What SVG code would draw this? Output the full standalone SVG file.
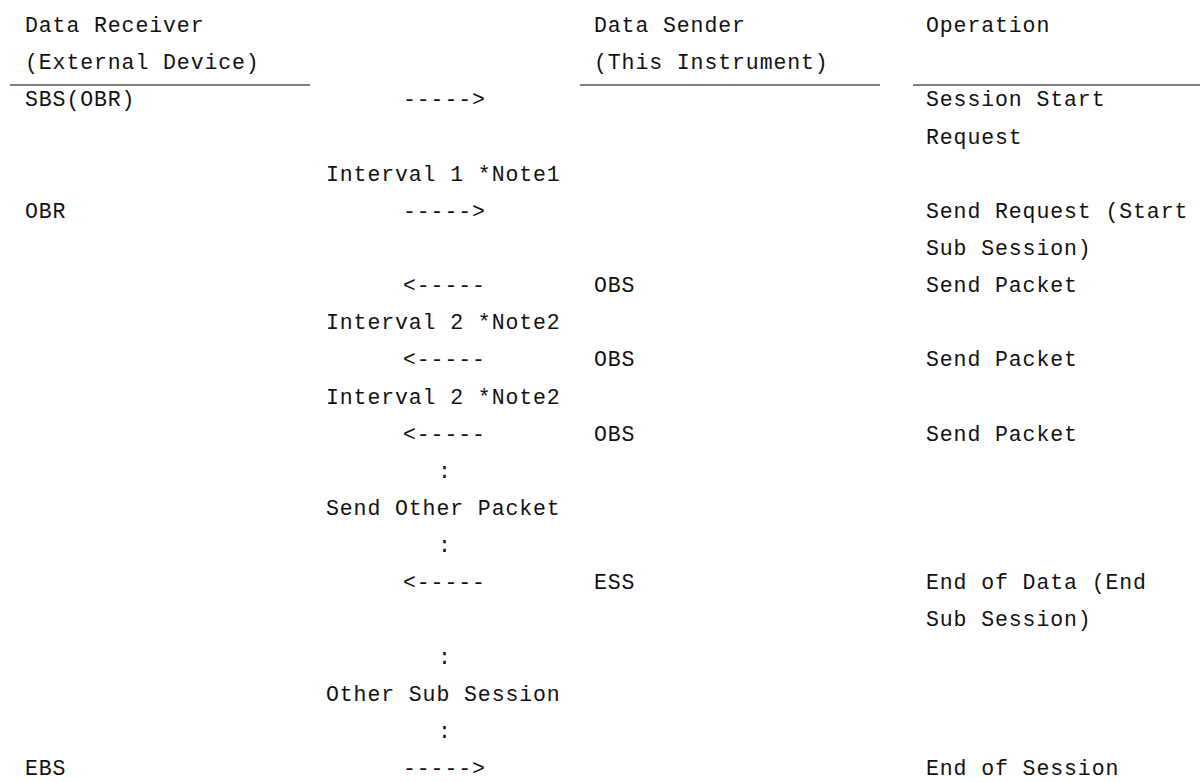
<svg xmlns="http://www.w3.org/2000/svg" width="1200" height="782" viewBox="0 0 1200 782">
<style>
text{font-family:"Liberation Mono","DejaVu Sans Mono",monospace;font-size:21.5px;letter-spacing:0.9px;fill:#111;}
.rule{stroke:#808080;stroke-width:2;}
</style>
<rect width="1200" height="782" fill="#fff"/>
<g id="header">
<text x="25" y="32">Data Receiver</text>
<text x="25" y="69.2">(External Device)</text>
<text x="594" y="32">Data Sender</text>
<text x="594" y="69.2">(This Instrument)</text>
<text x="926" y="32">Operation</text>
<line class="rule" x1="10" y1="85" x2="310" y2="85"/>
<line class="rule" x1="580" y1="85" x2="880" y2="85"/>
<line class="rule" x1="913" y1="85" x2="1200" y2="85"/>
</g>
<g id="col-receiver">
<text x="25" y="106.3">SBS(OBR)</text>
<text x="25" y="217.8">OBR</text>
<text x="25" y="775">EBS</text>
</g>
<g id="connectors">
<text x="403" y="106.3">-----&gt;</text>
<text x="326" y="180.6">Interval 1 *Note1</text>
<text x="403" y="217.8">-----&gt;</text>
<text x="403" y="292.1">&lt;-----</text>
<text x="326" y="329.2">Interval 2 *Note2</text>
<text x="403" y="366.4">&lt;-----</text>
<text x="326" y="403.5">Interval 2 *Note2</text>
<text x="403" y="440.7">&lt;-----</text>
<text x="438" y="477.8">:</text>
<text x="326" y="515">Send Other Packet</text>
<text x="438" y="552.1">:</text>
<text x="403" y="589.3">&lt;-----</text>
<text x="438" y="663.6">:</text>
<text x="326" y="700.7">Other Sub Session</text>
<text x="438" y="737.9">:</text>
<text x="403" y="775">-----&gt;</text>
</g>
<g id="col-sender">
<text x="594" y="292.1">OBS</text>
<text x="594" y="366.4">OBS</text>
<text x="594" y="440.7">OBS</text>
<text x="594" y="589.3">ESS</text>
</g>
<g id="col-operation">
<text x="926" y="106.3">Session Start</text>
<text x="926" y="143.5">Request</text>
<text x="926" y="217.8">Send Request (Start</text>
<text x="926" y="254.9">Sub Session)</text>
<text x="926" y="292.1">Send Packet</text>
<text x="926" y="366.4">Send Packet</text>
<text x="926" y="440.7">Send Packet</text>
<text x="926" y="589.3">End of Data (End</text>
<text x="926" y="626.4">Sub Session)</text>
<text x="926" y="775">End of Session</text>
</g>
</svg>
